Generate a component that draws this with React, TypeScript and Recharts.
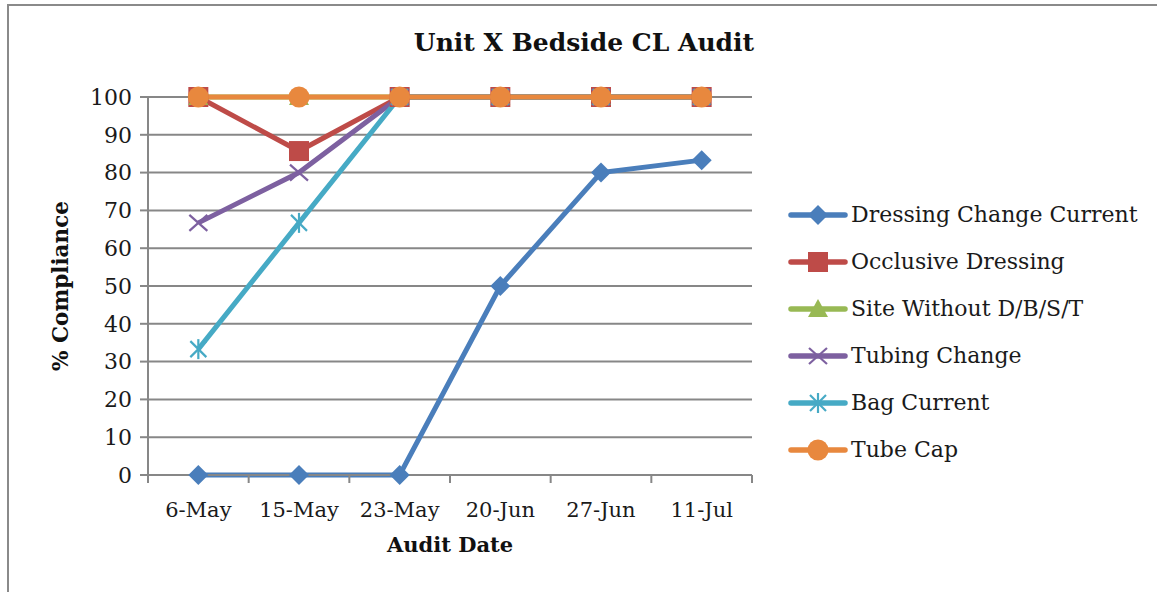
import React from 'react';
import { LineChart, Line, XAxis, YAxis, CartesianGrid } from 'recharts';

const categories = ['6-May', '15-May', '23-May', '20-Jun', '27-Jun', '11-Jul'];
const dressingChangeCurrent = [0, 0, 0, 50, 80, 83.3];
const occlusiveDressing = [100, 85.7, 100, 100, 100, 100];
const siteWithout = [100, 100, 100, 100, 100, 100];
const tubingChange = [66.7, 80, 100, 100, 100, 100];
const bagCurrent = [33.3, 66.7, 100, 100, 100, 100];
const tubeCap = [100, 100, 100, 100, 100, 100];
const yTicks = [0, 10, 20, 30, 40, 50, 60, 70, 80, 90, 100];

const data = categories.map((c, i) => ({
  date: c,
  dcc: dressingChangeCurrent[i],
  occ: occlusiveDressing[i],
  site: siteWithout[i],
  tub: tubingChange[i],
  bag: bagCurrent[i],
  cap: tubeCap[i],
}));

const FONT = 'DejaVu Serif, Liberation Serif, serif';
const GRID = '#878787';

type Shape = 'diamond' | 'square' | 'triangle' | 'x' | 'star' | 'circle';

const series: { key: string; name: string; color: string; shape: Shape; width: number }[] = [
  { key: 'dcc', name: 'Dressing Change Current', color: '#4A7EBB', shape: 'diamond', width: 5 },
  { key: 'occ', name: 'Occlusive Dressing', color: '#BE4B48', shape: 'square', width: 5 },
  { key: 'site', name: 'Site Without D/B/S/T', color: '#98B954', shape: 'triangle', width: 5 },
  { key: 'tub', name: 'Tubing Change', color: '#7D60A0', shape: 'x', width: 5 },
  { key: 'bag', name: 'Bag Current', color: '#46AAC5', shape: 'star', width: 5 },
  { key: 'cap', name: 'Tube Cap', color: '#E8883E', shape: 'circle', width: 5.2 },
];

function Marker({ cx, cy, shape, color }: { cx: number; cy: number; shape: Shape; color: string }) {
  switch (shape) {
    case 'diamond':
      return <path d={`M${cx},${cy - 10}L${cx + 10},${cy}L${cx},${cy + 10}L${cx - 10},${cy}Z`} fill={color} />;
    case 'square':
      return <rect x={cx - 10} y={cy - 10} width={20} height={20} fill={color} />;
    case 'triangle':
      return <path d={`M${cx},${cy - 10}L${cx + 10},${cy + 8}L${cx - 10},${cy + 8}Z`} fill={color} />;
    case 'x':
      return (
        <g stroke={color} strokeWidth={2.2}>
          <line x1={cx - 9} y1={cy - 8} x2={cx + 9} y2={cy + 8} />
          <line x1={cx - 9} y1={cy + 8} x2={cx + 9} y2={cy - 8} />
        </g>
      );
    case 'star':
      return (
        <g stroke={color} strokeWidth={2.2}>
          <line x1={cx - 8} y1={cy - 8} x2={cx + 8} y2={cy + 8} />
          <line x1={cx - 8} y1={cy + 8} x2={cx + 8} y2={cy - 8} />
          <line x1={cx} y1={cy - 10} x2={cx} y2={cy + 10} />
        </g>
      );
    case 'circle':
    default:
      return <circle cx={cx} cy={cy} r={10.5} fill={color} />;
  }
}

const XTick = (props: any) => {
  const { x, y, payload, index, visibleTicksCount, width } = props;
  const count = visibleTicksCount || categories.length;
  const half =
    payload && typeof payload.offset === 'number' && payload.offset > 0
      ? payload.offset
      : (width || 604) / count / 2;
  const top = y - 24;
  return (
    <g>
      <line x1={x - half} y1={top} x2={x - half} y2={top + 8} stroke={GRID} strokeWidth={2} />
      {index === count - 1 && (
        <line x1={x + half} y1={top} x2={x + half} y2={top + 8} stroke={GRID} strokeWidth={2} />
      )}
      <text x={x} y={y} dy={18} textAnchor="middle" fontFamily={FONT} fontSize={21} fill="#1a1a1a">
        {payload.value}
      </text>
    </g>
  );
};

const LegendBox = () => (
  <div style={{ position: 'absolute', left: 787, top: 191 }}>
    {series.map((s) => (
      <div key={s.key} style={{ display: 'flex', alignItems: 'center', height: 47 }}>
        <svg width={64} height={24} style={{ display: 'block' }}>
          <line x1={4} y1={12} x2={58} y2={12} stroke={s.color} strokeWidth={5.5} strokeLinecap="round" />
          <Marker cx={31} cy={12} shape={s.shape} color={s.color} />
        </svg>
        <span style={{ fontFamily: FONT, fontSize: 22, color: '#1a1a1a', whiteSpace: 'nowrap' }}>{s.name}</span>
      </div>
    ))}
  </div>
);

export default function App() {
  return (
    <div style={{ position: 'fixed', left: 0, top: 0, width: 1157, height: 592, background: '#fff', overflow: 'hidden' }}>
      <div
        style={{
          position: 'absolute',
          left: 7,
          top: 4,
          width: 1200,
          height: 700,
          borderTop: '2px solid #8a8a8a',
          borderLeft: '2px solid #8a8a8a',
          boxSizing: 'border-box',
        }}
      />
      <div
        style={{
          position: 'absolute',
          left: 0,
          top: 28,
          width: 1168,
          textAlign: 'center',
          fontFamily: FONT,
          fontWeight: 'bold',
          fontSize: 25,
          color: '#111',
        }}
      >
        Unit X Bedside CL Audit
      </div>
      <div style={{ position: 'absolute', left: 0, top: 0 }}>
        <LineChart width={1157} height={592} data={data} margin={{ top: 97, right: 405, bottom: 0, left: 0 }}>
          <CartesianGrid horizontal vertical={false} stroke={GRID} strokeWidth={2} />
          <XAxis
            dataKey="date"
            scale="band"
            height={117}
            axisLine={{ stroke: GRID, strokeWidth: 2 }}
            tickLine={false}
            tickSize={8}
            tickMargin={16}
            interval={0}
            tick={<XTick />}
            label={{
              value: 'Audit Date',
              position: 'insideTop',
              offset: 62,
              fontFamily: FONT,
              fontWeight: 'bold',
              fontSize: 21,
              fill: '#111',
            }}
          />
          <YAxis
            width={148}
            domain={[0, 100]}
            ticks={yTicks}
            interval={0}
            axisLine={{ stroke: GRID, strokeWidth: 2 }}
            tickLine={{ stroke: GRID, strokeWidth: 2 }}
            tickSize={8}
            tickMargin={8}
            tick={{ fontFamily: FONT, fontSize: 22, fill: '#1a1a1a' }}
            label={{
              content: (p: any) => {
                const vb = p.viewBox || { x: 0, y: 97, width: 148, height: 378 };
                const cx = vb.x + 60;
                const cy = vb.y + vb.height / 2;
                return (
                  <text
                    x={cx}
                    y={cy}
                    transform={`rotate(-90 ${cx} ${cy})`}
                    textAnchor="middle"
                    dominantBaseline="central"
                    fontFamily={FONT}
                    fontWeight="bold"
                    fontSize={21.5}
                    fill="#111"
                  >
                    % Compliance
                  </text>
                );
              },
            }}
          />
          {series.map((s) => (
            <Line
              key={s.key}
              type="linear"
              dataKey={s.key}
              name={s.name}
              stroke={s.color}
              strokeWidth={s.width}
              isAnimationActive={false}
              dot={(p: any) => (
                <Marker key={`${s.key}-${p.index}`} cx={p.cx} cy={p.cy} shape={s.shape} color={s.color} />
              )}
              activeDot={false}
            />
          ))}
        </LineChart>
      </div>
      <LegendBox />
    </div>
  );
}
